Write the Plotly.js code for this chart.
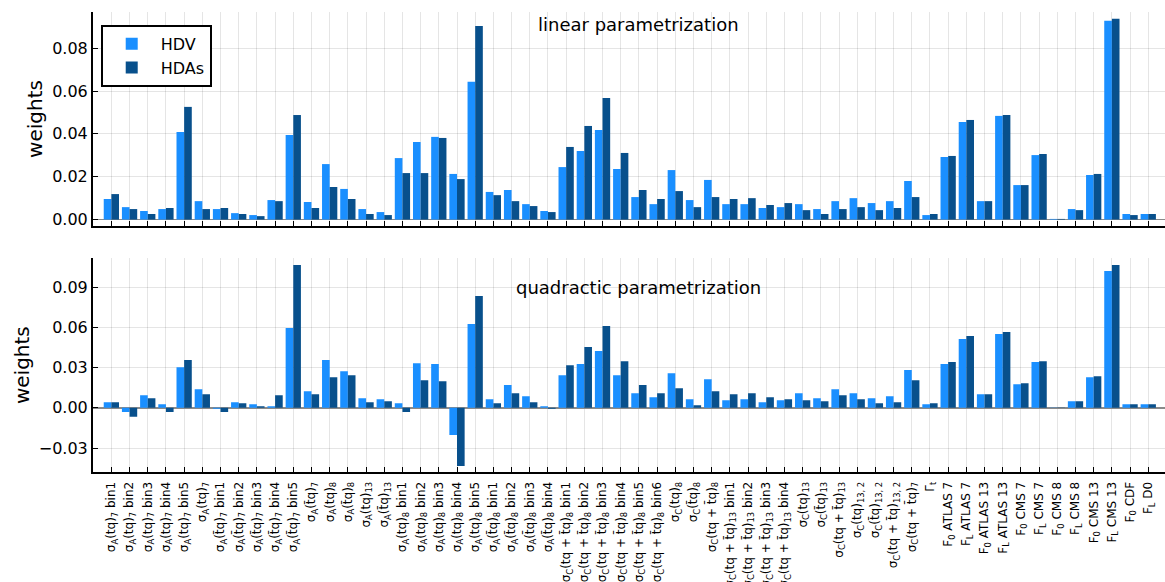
<!DOCTYPE html>
<html>
<head>
<meta charset="utf-8">
<script src="https://cdn.plot.ly/plotly-3.0.1.min.js"></script>
<style>
  html, body { margin: 0; padding: 0; background: #fff; }
  #chart { width: 1165px; height: 582px; }
</style>
</head>
<body>
<div id="chart"></div>
<script>
// Observable labels (t̄ written with a combining macron)
const categories = [
  'σ<sub>A</sub>(tq)<sub>7</sub> bin1',
  'σ<sub>A</sub>(tq)<sub>7</sub> bin2',
  'σ<sub>A</sub>(tq)<sub>7</sub> bin3',
  'σ<sub>A</sub>(tq)<sub>7</sub> bin4',
  'σ<sub>A</sub>(tq)<sub>7</sub> bin5',
  'σ<sub>A</sub>(tq)<sub>7</sub>',
  'σ<sub>A</sub>(t\u0304q)<sub>7</sub> bin1',
  'σ<sub>A</sub>(t\u0304q)<sub>7</sub> bin2',
  'σ<sub>A</sub>(t\u0304q)<sub>7</sub> bin3',
  'σ<sub>A</sub>(t\u0304q)<sub>7</sub> bin4',
  'σ<sub>A</sub>(t\u0304q)<sub>7</sub> bin5',
  'σ<sub>A</sub>(t\u0304q)<sub>7</sub>',
  'σ<sub>A</sub>(tq)<sub>8</sub>',
  'σ<sub>A</sub>(t\u0304q)<sub>8</sub>',
  'σ<sub>A</sub>(tq)<sub>13</sub>',
  'σ<sub>A</sub>(t\u0304q)<sub>13</sub>',
  'σ<sub>A</sub>(tq)<sub>8</sub> bin1',
  'σ<sub>A</sub>(tq)<sub>8</sub> bin2',
  'σ<sub>A</sub>(tq)<sub>8</sub> bin3',
  'σ<sub>A</sub>(tq)<sub>8</sub> bin4',
  'σ<sub>A</sub>(tq)<sub>8</sub> bin5',
  'σ<sub>A</sub>(t\u0304q)<sub>8</sub> bin1',
  'σ<sub>A</sub>(t\u0304q)<sub>8</sub> bin2',
  'σ<sub>A</sub>(t\u0304q)<sub>8</sub> bin3',
  'σ<sub>A</sub>(t\u0304q)<sub>8</sub> bin4',
  'σ<sub>C</sub>(tq + t\u0304q)<sub>8</sub> bin1',
  'σ<sub>C</sub>(tq + t\u0304q)<sub>8</sub> bin2',
  'σ<sub>C</sub>(tq + t\u0304q)<sub>8</sub> bin3',
  'σ<sub>C</sub>(tq + t\u0304q)<sub>8</sub> bin4',
  'σ<sub>C</sub>(tq + t\u0304q)<sub>8</sub> bin5',
  'σ<sub>C</sub>(tq + t\u0304q)<sub>8</sub> bin6',
  'σ<sub>C</sub>(tq)<sub>8</sub>',
  'σ<sub>C</sub>(t\u0304q)<sub>8</sub>',
  'σ<sub>C</sub>(tq + t\u0304q)<sub>8</sub>',
  'σ<sub>C</sub>(tq + t\u0304q)<sub>13</sub> bin1',
  'σ<sub>C</sub>(tq + t\u0304q)<sub>13</sub> bin2',
  'σ<sub>C</sub>(tq + t\u0304q)<sub>13</sub> bin3',
  'σ<sub>C</sub>(tq + t\u0304q)<sub>13</sub> bin4',
  'σ<sub>C</sub>(tq)<sub>13</sub>',
  'σ<sub>C</sub>(t\u0304q)<sub>13</sub>',
  'σ<sub>C</sub>(tq + t\u0304q)<sub>13</sub>',
  'σ<sub>C</sub>(tq)<sub>13, 2</sub>',
  'σ<sub>C</sub>(t\u0304q)<sub>13, 2</sub>',
  'σ<sub>C</sub>(tq + t\u0304q)<sub>13, 2</sub>',
  'σ<sub>C</sub>(tq + t\u0304q)<sub>7</sub>',
  'Γ<sub>t</sub>',
  'F<sub>0</sub> ATLAS 7',
  'F<sub>L</sub> ATLAS 7',
  'F<sub>0</sub> ATLAS 13',
  'F<sub>L</sub> ATLAS 13',
  'F<sub>0</sub> CMS 7',
  'F<sub>L</sub> CMS 7',
  'F<sub>0</sub> CMS 8',
  'F<sub>L</sub> CMS 8',
  'F<sub>0</sub> CMS 13',
  'F<sub>L</sub> CMS 13',
  'F<sub>0</sub> CDF',
  'F<sub>L</sub> D0'
];

// Weights, linear parametrization
const linHDV = [
  0.0096, 0.0058, 0.0040, 0.0049, 0.0409, 0.0086, 0.0049, 0.0030, 0.0021, 0.0091,
  0.0395, 0.0082, 0.0259, 0.0143, 0.0049, 0.0035, 0.0287, 0.0362, 0.0386, 0.0213,
  0.0643, 0.0129, 0.0138, 0.0072, 0.0040, 0.0245, 0.0320, 0.0418, 0.0236, 0.0105,
  0.0072, 0.0231, 0.0091, 0.0185, 0.0072, 0.0072, 0.0054, 0.0058, 0.0072, 0.0049,
  0.0086, 0.0100, 0.0077, 0.0086, 0.0180, 0.0021, 0.0292, 0.0456, 0.0086, 0.0484,
  0.0161, 0.0301, 0.0003, 0.0049, 0.0208, 0.0928, 0.0026, 0.0026
];
const linHDAs = [
  0.0119, 0.0049, 0.0026, 0.0054, 0.0526, 0.0049, 0.0054, 0.0026, 0.0016, 0.0086,
  0.0488, 0.0054, 0.0152, 0.0096, 0.0026, 0.0021, 0.0217, 0.0217, 0.0381, 0.0189,
  0.0904, 0.0114, 0.0086, 0.0063, 0.0035, 0.0339, 0.0437, 0.0568, 0.0311, 0.0138,
  0.0096, 0.0133, 0.0058, 0.0105, 0.0096, 0.0100, 0.0068, 0.0077, 0.0044, 0.0026,
  0.0049, 0.0058, 0.0044, 0.0054, 0.0105, 0.0026, 0.0297, 0.0465, 0.0086, 0.0488,
  0.0161, 0.0306, 0.0003, 0.0044, 0.0213, 0.0937, 0.0021, 0.0026
];

// Weights, quadratic parametrization
const quadHDV = [
  0.0042, -0.0030, 0.0095, 0.0027, 0.0304, 0.0140, -0.0007, 0.0042, 0.0027, 0.0012,
  0.0596, 0.0125, 0.0357, 0.0274, 0.0072, 0.0065, 0.0035, 0.0334, 0.0327, -0.0202,
  0.0626, 0.0065, 0.0170, 0.0087, 0.0012, 0.0244, 0.0327, 0.0424, 0.0244, 0.0110,
  0.0080, 0.0259, 0.0065, 0.0214, 0.0057, 0.0065, 0.0042, 0.0057, 0.0110, 0.0072,
  0.0140, 0.0110, 0.0072, 0.0087, 0.0282, 0.0027, 0.0327, 0.0514, 0.0102, 0.0551,
  0.0177, 0.0342, 0.0003, 0.0050, 0.0229, 0.1022, 0.0027, 0.0027
];
const quadHDAs = [
  0.0042, -0.0067, 0.0072, -0.0030, 0.0357, 0.0102, -0.0030, 0.0035, 0.0012, 0.0095,
  0.1067, 0.0102, 0.0229, 0.0244, 0.0042, 0.0050, -0.0030, 0.0207, 0.0199, -0.0434,
  0.0835, 0.0035, 0.0110, 0.0042, -0.0007, 0.0319, 0.0454, 0.0611, 0.0349, 0.0170,
  0.0110, 0.0147, 0.0020, 0.0125, 0.0102, 0.0110, 0.0080, 0.0065, 0.0057, 0.0050,
  0.0095, 0.0065, 0.0035, 0.0042, 0.0207, 0.0035, 0.0342, 0.0536, 0.0102, 0.0566,
  0.0184, 0.0349, 0.0003, 0.0050, 0.0237, 0.1067, 0.0027, 0.0027
];

const seriesNames = ['HDV', 'HDAs'];
const seriesColors = ['#1a8fff', '#08508c'];
const linTicks = [0, 0.02, 0.04, 0.06, 0.08];
const quadTicks = [-0.03, 0, 0.03, 0.06, 0.09];
const panelTitles = ['linear parametrization', 'quadractic parametrization'];

const xs = categories.map((_, i) => i);
const FONT = 'DejaVu Sans, Verdana, sans-serif';

function bars(y, k, xa, ya, showlegend) {
  return {
    type: 'bar', x: xs, y: y, name: seriesNames[k],
    marker: { color: seriesColors[k], line: { width: 0 } },
    xaxis: xa, yaxis: ya, showlegend: showlegend,
    offsetgroup: String(k), legendgroup: seriesNames[k],
    hoverinfo: 'x+y+name'
  };
}

const data = [
  bars(linHDV, 0, 'x', 'y', true),
  bars(linHDAs, 1, 'x', 'y', true),
  bars(quadHDV, 0, 'x2', 'y2', false),
  bars(quadHDAs, 1, 'x2', 'y2', false)
];

const gridCol = 'rgba(0,0,0,0.10)';
const xBase = {
  range: [-1.01, 57.92], tickmode: 'array', tickvals: xs,
  ticks: 'inside', ticklen: 5, tickwidth: 1, tickcolor: '#000',
  showline: true, linecolor: '#000', linewidth: 2,
  showgrid: true, gridcolor: gridCol, gridwidth: 1, zeroline: false,
  fixedrange: true
};
const yBase = {
  tickformat: '.2f', ticks: 'inside', ticklen: 5, tickwidth: 1, tickcolor: '#000',
  showline: true, linecolor: '#000', linewidth: 2,
  showgrid: true, gridcolor: gridCol, gridwidth: 1,
  zeroline: true, zerolinecolor: '#8a8a8a', zerolinewidth: 1.5,
  tickfont: { size: 16, color: '#000', family: FONT },
  title: { text: 'weights', font: { size: 20, color: '#000', family: FONT }, standoff: 4 },
  fixedrange: true
};

const layout = {
  width: 1165, height: 582,
  margin: { l: 93, r: 0, t: 12, b: 110 },
  paper_bgcolor: '#fff', plot_bgcolor: '#fff',
  font: { family: FONT, color: '#000' },
  barmode: 'group', bargap: 0.16, bargroupgap: 0,
  showlegend: true,
  legend: {
    x: 0.0072, y: 0.972, xanchor: 'left', yanchor: 'top',
    bgcolor: '#fff', bordercolor: '#000', borderwidth: 2,
    font: { size: 16, family: FONT, color: '#000' },
    itemwidth: 48, tracegroupgap: 0
  },
  xaxis: Object.assign({}, xBase, { anchor: 'y', domain: [0, 1], showticklabels: false }),
  xaxis2: Object.assign({}, xBase, {
    anchor: 'y2', domain: [0, 1], matches: 'x',
    ticktext: categories, tickangle: -90, ticklabelstandoff: 3,
    tickfont: { size: 12, color: '#000', family: FONT }
  }),
  yaxis: Object.assign({}, yBase, {
    anchor: 'x', domain: [0.5348, 1], range: [-0.0030, 0.0969],
    tickmode: 'array', tickvals: linTicks
  }),
  yaxis2: Object.assign({}, yBase, {
    anchor: 'x2', domain: [0, 0.4645], range: [-0.0479, 0.1117],
    tickmode: 'array', tickvals: quadTicks
  }),
  annotations: [
    { text: panelTitles[0], xref: 'paper', yref: 'paper', x: 0.5092, y: 0.9724,
      xanchor: 'center', yanchor: 'middle', showarrow: false,
      font: { size: 18, family: FONT, color: '#000' } },
    { text: panelTitles[1], xref: 'paper', yref: 'paper', x: 0.5092, y: 0.402,
      xanchor: 'center', yanchor: 'middle', showarrow: false,
      font: { size: 18, family: FONT, color: '#000' } }
  ]
};

Plotly.newPlot('chart', data, layout, { displayModeBar: false, staticPlot: true });
</script>
</body>
</html>
